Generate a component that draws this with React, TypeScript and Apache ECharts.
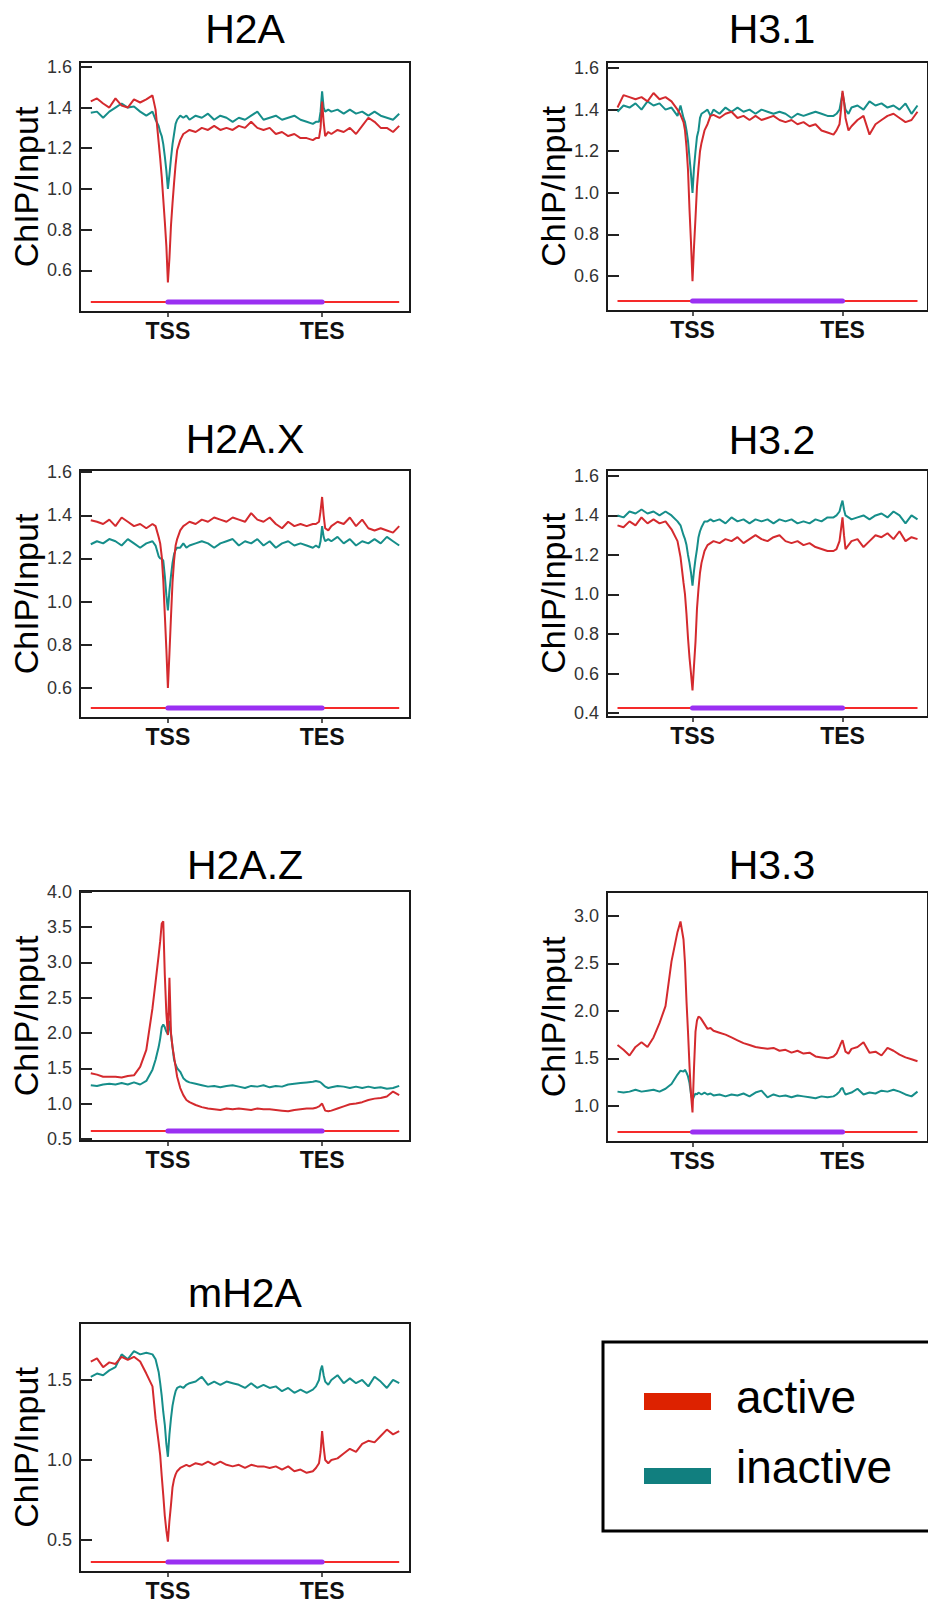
import React, { useEffect, useRef } from "react";
import * as echarts from "echarts";

// Scaled gene coordinate: TSS = 0, TES = 100
const X = [-50,-46,-42,-38,-34,-30,-26,-22,-18,-14,-10,
  -8,-6,-5,-4,-3,-2,-1,
  0,1,2,3,4,5,6,
  8,10,12,14,
  18,22,26,30,34,38,42,46,50,54,58,62,66,70,74,78,82,86,90,94,
  96,98,99,
  100,101,102,104,106,
  110,114,118,122,126,130,134,138,142,146,150];

const TITLES = ["H2A", "H3.1", "H2A.X", "H3.2", "H2A.Z", "H3.3", "mH2A"];
const SERIES_NAMES = ["active", "inactive"];
const X_TICKS = [0, 100];
const X_TICK_LABELS = ["TSS", "TES"];

const H2A_ACTIVE = [1.43,1.445,1.42,1.40,1.445,1.41,1.40,1.44,1.425,1.44,1.46,
  1.39,1.23,1.15,1.06,0.95,0.84,0.72,
  0.54,0.66,0.82,0.93,1.03,1.12,1.19,
  1.24,1.27,1.28,1.29,
  1.28,1.30,1.29,1.31,1.29,1.30,1.29,1.31,1.30,1.33,1.30,1.29,1.30,1.27,1.28,1.26,1.27,1.25,1.25,1.24,
  1.25,1.25,1.30,
  1.43,1.33,1.26,1.28,1.27,
  1.29,1.28,1.30,1.27,1.31,1.35,1.33,1.30,1.30,1.28,1.31];
const H2A_INACTIVE = [1.375,1.38,1.35,1.38,1.40,1.42,1.40,1.405,1.38,1.36,1.38,
  1.34,1.31,1.28,1.26,1.22,1.16,1.09,
  1.00,1.07,1.15,1.22,1.27,1.32,1.34,
  1.36,1.35,1.36,1.34,
  1.36,1.35,1.37,1.34,1.36,1.35,1.33,1.35,1.34,1.36,1.38,1.34,1.35,1.36,1.34,1.35,1.36,1.34,1.33,1.32,
  1.33,1.33,1.38,
  1.48,1.40,1.38,1.39,1.38,
  1.39,1.37,1.39,1.37,1.38,1.36,1.38,1.36,1.35,1.34,1.37];

const H31_ACTIVE = [1.41,1.47,1.46,1.45,1.46,1.44,1.48,1.45,1.46,1.44,1.40,
  1.375,1.34,1.30,1.22,1.11,0.92,0.76,
  0.575,0.74,0.88,1.03,1.12,1.20,1.24,
  1.30,1.33,1.37,1.375,
  1.36,1.38,1.39,1.36,1.37,1.35,1.37,1.35,1.36,1.37,1.35,1.34,1.35,1.33,1.34,1.32,1.33,1.30,1.29,1.28,
  1.30,1.33,1.40,
  1.49,1.44,1.36,1.30,1.32,
  1.35,1.37,1.28,1.33,1.35,1.37,1.38,1.36,1.34,1.35,1.39];
const H31_INACTIVE = [1.39,1.42,1.41,1.43,1.40,1.44,1.42,1.43,1.40,1.41,1.37,
  1.42,1.36,1.34,1.30,1.25,1.17,1.09,
  1.00,1.12,1.20,1.27,1.30,1.36,1.38,
  1.39,1.40,1.37,1.40,
  1.38,1.41,1.39,1.41,1.39,1.40,1.38,1.40,1.39,1.38,1.39,1.38,1.36,1.38,1.37,1.38,1.39,1.38,1.37,1.37,
  1.38,1.40,1.44,
  1.48,1.44,1.40,1.38,1.41,
  1.42,1.40,1.44,1.42,1.43,1.41,1.42,1.40,1.43,1.38,1.42];

const H2AX_ACTIVE = [1.377,1.37,1.36,1.38,1.35,1.39,1.37,1.35,1.36,1.34,1.36,
  1.35,1.30,1.27,1.21,1.10,0.94,0.78,
  0.60,0.76,0.93,1.09,1.19,1.26,1.29,
  1.33,1.35,1.36,1.37,
  1.36,1.38,1.37,1.39,1.38,1.37,1.39,1.38,1.37,1.41,1.38,1.37,1.39,1.36,1.34,1.37,1.35,1.36,1.35,1.36,
  1.36,1.37,1.42,
  1.485,1.40,1.34,1.33,1.35,
  1.37,1.36,1.39,1.35,1.38,1.34,1.33,1.34,1.33,1.32,1.35];
const H2AX_INACTIVE = [1.266,1.28,1.27,1.29,1.28,1.26,1.29,1.27,1.25,1.27,1.28,
  1.26,1.21,1.20,1.20,1.19,1.12,1.03,
  0.96,1.05,1.12,1.18,1.22,1.24,1.25,
  1.25,1.27,1.25,1.26,
  1.27,1.28,1.27,1.25,1.27,1.28,1.29,1.26,1.28,1.27,1.29,1.26,1.28,1.25,1.27,1.28,1.26,1.27,1.26,1.25,
  1.26,1.25,1.28,
  1.35,1.30,1.28,1.29,1.28,
  1.30,1.27,1.29,1.26,1.28,1.27,1.29,1.27,1.30,1.28,1.26];

const H32_ACTIVE = [1.35,1.34,1.37,1.35,1.39,1.36,1.38,1.36,1.37,1.33,1.27,
  1.19,1.06,1.00,0.90,0.78,0.68,0.60,
  0.515,0.64,0.76,0.93,1.03,1.11,1.16,
  1.22,1.25,1.26,1.27,
  1.26,1.28,1.27,1.29,1.26,1.28,1.30,1.28,1.27,1.29,1.30,1.27,1.26,1.27,1.25,1.26,1.24,1.23,1.22,1.22,
  1.23,1.27,1.33,
  1.39,1.30,1.23,1.25,1.27,
  1.28,1.24,1.27,1.30,1.29,1.31,1.28,1.32,1.27,1.29,1.28];
const H32_INACTIVE = [1.40,1.39,1.42,1.41,1.43,1.41,1.42,1.40,1.42,1.40,1.37,
  1.35,1.30,1.28,1.25,1.20,1.16,1.11,
  1.045,1.12,1.18,1.23,1.29,1.32,1.34,
  1.37,1.37,1.38,1.37,
  1.38,1.36,1.39,1.37,1.38,1.36,1.38,1.37,1.38,1.36,1.38,1.37,1.38,1.36,1.37,1.36,1.38,1.37,1.39,1.39,
  1.40,1.42,1.45,
  1.475,1.43,1.40,1.39,1.38,
  1.39,1.40,1.38,1.40,1.41,1.39,1.42,1.40,1.36,1.40,1.38];

const H2AZ_ACTIVE = [1.43,1.41,1.38,1.38,1.38,1.37,1.39,1.40,1.52,1.76,2.35,
  2.72,3.10,3.30,3.55,3.58,2.82,2.28,
  1.97,2.78,2.00,1.80,1.66,1.52,1.38,
  1.22,1.12,1.05,1.02,
  0.98,0.95,0.93,0.92,0.91,0.93,0.92,0.93,0.92,0.91,0.93,0.92,0.92,0.91,0.90,0.89,0.91,0.92,0.93,0.93,
  0.94,0.96,0.98,
  1.00,0.95,0.90,0.89,0.90,
  0.93,0.96,0.99,1.00,1.02,1.05,1.07,1.08,1.10,1.17,1.12];
const H2AZ_INACTIVE = [1.26,1.25,1.27,1.28,1.27,1.29,1.27,1.30,1.27,1.32,1.48,
  1.62,1.80,1.92,2.08,2.12,2.08,2.02,
  1.98,2.17,1.98,1.80,1.62,1.55,1.50,
  1.45,1.36,1.32,1.30,
  1.28,1.26,1.24,1.25,1.23,1.25,1.26,1.24,1.22,1.25,1.24,1.26,1.23,1.25,1.24,1.27,1.28,1.29,1.30,1.31,
  1.32,1.31,1.30,
  1.28,1.26,1.24,1.22,1.23,
  1.25,1.24,1.22,1.24,1.22,1.24,1.22,1.23,1.21,1.22,1.25];

const H33_ACTIVE = [1.64,1.59,1.53,1.62,1.67,1.62,1.72,1.87,2.05,2.52,2.83,
  2.94,2.75,2.50,2.10,1.78,1.42,1.12,
  0.93,1.40,1.78,1.90,1.94,1.93,1.91,
  1.86,1.81,1.82,1.79,
  1.77,1.75,1.72,1.69,1.66,1.64,1.62,1.61,1.60,1.61,1.58,1.59,1.56,1.58,1.55,1.56,1.52,1.51,1.50,1.52,
  1.55,1.62,1.66,
  1.69,1.63,1.57,1.55,1.60,
  1.62,1.67,1.56,1.57,1.53,1.61,1.58,1.54,1.51,1.49,1.47];
const H33_INACTIVE = [1.15,1.14,1.15,1.17,1.15,1.16,1.17,1.15,1.18,1.23,1.33,
  1.37,1.36,1.38,1.35,1.31,1.24,1.12,
  1.06,1.10,1.13,1.12,1.14,1.13,1.12,
  1.14,1.12,1.13,1.11,
  1.12,1.10,1.12,1.11,1.13,1.10,1.14,1.16,1.09,1.12,1.10,1.11,1.09,1.11,1.10,1.09,1.08,1.10,1.09,1.10,
  1.12,1.15,1.18,
  1.19,1.15,1.12,1.13,1.14,
  1.18,1.12,1.14,1.13,1.16,1.15,1.17,1.15,1.12,1.10,1.15];

const MH2A_ACTIVE = [1.615,1.635,1.58,1.61,1.60,1.645,1.625,1.645,1.615,1.54,1.46,
  1.26,1.11,1.03,0.90,0.78,0.65,0.56,
  0.49,0.62,0.72,0.83,0.88,0.91,0.93,
  0.95,0.96,0.97,0.96,
  0.98,0.97,0.99,0.97,0.99,0.97,0.96,0.97,0.95,0.97,0.96,0.96,0.95,0.96,0.94,0.96,0.93,0.94,0.92,0.93,
  0.95,0.98,1.05,
  1.18,1.08,1.00,0.98,1.00,
  1.01,1.04,1.07,1.05,1.10,1.12,1.11,1.15,1.19,1.16,1.18];
const MH2A_INACTIVE = [1.52,1.54,1.53,1.56,1.58,1.66,1.63,1.68,1.66,1.67,1.66,
  1.63,1.55,1.48,1.40,1.30,1.22,1.10,
  1.02,1.16,1.26,1.34,1.39,1.43,1.45,
  1.46,1.45,1.47,1.48,
  1.49,1.52,1.47,1.49,1.47,1.49,1.48,1.47,1.45,1.48,1.45,1.47,1.45,1.46,1.43,1.45,1.42,1.44,1.42,1.44,
  1.46,1.50,1.56,
  1.59,1.53,1.49,1.47,1.50,
  1.53,1.48,1.51,1.48,1.50,1.46,1.52,1.49,1.45,1.50,1.48];

const ACTIVE = [H2A_ACTIVE, H31_ACTIVE, H2AX_ACTIVE, H32_ACTIVE, H2AZ_ACTIVE, H33_ACTIVE, MH2A_ACTIVE];
const INACTIVE = [H2A_INACTIVE, H31_INACTIVE, H2AX_INACTIVE, H32_INACTIVE, H2AZ_INACTIVE, H33_INACTIVE, MH2A_INACTIVE];

// gene model: flanks from -50..150, gene body TSS..TES
const GENE_FLANK = [-50, 150];
const GENE_BODY = [0, 100];
const GENE_Y = [0.444, 0.48, 0.507, 0.425, 0.61, 0.726, 0.3625];

const Y_MIN = [0.395, 0.432, 0.461, 0.38, 0.47, 0.62, 0.30];
const Y_MAX = [1.624, 1.629, 1.61, 1.63, 4.01, 3.25, 1.856];
const Y_TICKS = [
  [0.6, 0.8, 1.0, 1.2, 1.4, 1.6],
  [0.6, 0.8, 1.0, 1.2, 1.4, 1.6],
  [0.6, 0.8, 1.0, 1.2, 1.4, 1.6],
  [0.4, 0.6, 0.8, 1.0, 1.2, 1.4, 1.6],
  [0.5, 1.0, 1.5, 2.0, 2.5, 3.0, 3.5, 4.0],
  [1.0, 1.5, 2.0, 2.5, 3.0],
  [0.5, 1.0, 1.5],
];

// layout (pixels)
const LAYOUT = [
  { left: 80, top: 62, height: 250, titleY: 29 },
  { left: 607, top: 62, height: 249, titleY: 29 },
  { left: 80, top: 470, height: 248, titleY: 439 },
  { left: 607, top: 470, height: 247, titleY: 440 },
  { left: 80, top: 891, height: 250, titleY: 865 },
  { left: 607, top: 892, height: 250, titleY: 865 },
  { left: 80, top: 1323, height: 249, titleY: 1293 },
];
const GRID_W = 330;
const X_MIN = -57;
const X_MAX = 157;

const FONT = '"Liberation Sans", Arial, Helvetica, sans-serif';
const RED = "#d42a2e";
const TEAL = "#168e8a";

function buildOption() {
  const grid: any[] = [];
  const xAxis: any[] = [];
  const yAxis: any[] = [];
  const series: any[] = [];
  const graphic: any[] = [];

  LAYOUT.forEach((L, i) => {
    grid.push({
      left: L.left,
      top: L.top,
      width: GRID_W,
      height: L.height,
      show: true,
      borderColor: "#1a1a1a",
      borderWidth: 2,
      backgroundColor: "transparent",
      containLabel: false,
    });
    xAxis.push({
      type: "value",
      gridIndex: i,
      position: "bottom",
      min: X_MIN,
      max: X_MAX,
      splitLine: { show: false },
      axisLine: { show: false, onZero: false },
      axisTick: {
        show: true,
        inside: false,
        length: 5,
        lineStyle: { color: "#222", width: 1.5 },
        customValues: X_TICKS,
      },
      axisLabel: {
        show: true,
        customValues: X_TICKS,
        margin: 7,
        fontSize: 23,
        fontWeight: "bold",
        fontFamily: FONT,
        color: "#111",
        formatter: (v: number) => {
          const k = X_TICKS.indexOf(v);
          return k >= 0 ? X_TICK_LABELS[k] : "";
        },
      },
    });
    yAxis.push({
      type: "value",
      gridIndex: i,
      position: "left",
      min: Y_MIN[i],
      max: Y_MAX[i],
      splitLine: { show: false },
      axisLine: { show: false, onZero: false },
      axisTick: {
        show: true,
        inside: true,
        length: 12,
        lineStyle: { color: "#222", width: 2 },
        customValues: Y_TICKS[i],
      },
      axisLabel: {
        show: true,
        customValues: Y_TICKS[i],
        margin: 8,
        fontSize: 18,
        fontFamily: FONT,
        color: "#333",
        formatter: (v: number) => v.toFixed(1),
      },
    });

    series.push({
      type: "line",
      name: "gene flank " + i,
      xAxisIndex: i,
      yAxisIndex: i,
      data: GENE_FLANK.map((x) => [x, GENE_Y[i]]),
      showSymbol: false,
      symbol: "none",
      silent: true,
      lineStyle: { color: "#f52a2a", width: 2 },
      z: 2,
    });
    series.push({
      type: "line",
      name: "gene body " + i,
      xAxisIndex: i,
      yAxisIndex: i,
      data: GENE_BODY.map((x) => [x, GENE_Y[i]]),
      showSymbol: false,
      symbol: "none",
      silent: true,
      lineStyle: { color: "#9a30f2", width: 5, cap: "round" },
      z: 3,
    });
    series.push({
      type: "line",
      name: SERIES_NAMES[1],
      xAxisIndex: i,
      yAxisIndex: i,
      data: X.map((x, k) => [x, INACTIVE[i][k]]),
      showSymbol: false,
      symbol: "none",
      silent: true,
      lineStyle: { color: TEAL, width: 2 },
      z: 4,
    });
    series.push({
      type: "line",
      name: SERIES_NAMES[0],
      xAxisIndex: i,
      yAxisIndex: i,
      data: X.map((x, k) => [x, ACTIVE[i][k]]),
      showSymbol: false,
      symbol: "none",
      silent: true,
      lineStyle: { color: RED, width: 2 },
      z: 5,
    });

    // panel title
    graphic.push({
      type: "text",
      x: L.left + GRID_W / 2,
      y: L.titleY,
      silent: true,
      style: {
        text: TITLES[i],
        fontSize: 41,
        fontFamily: FONT,
        fill: "#000",
        align: "center",
        verticalAlign: "middle",
        textAlign: "center",
        textVerticalAlign: "middle",
      },
    });
    // y axis title
    graphic.push({
      type: "text",
      x: L.left - 54,
      y: L.top + L.height / 2,
      rotation: Math.PI / 2,
      silent: true,
      style: {
        text: "ChIP/Input",
        fontSize: 34,
        fontFamily: FONT,
        fill: "#000",
        align: "center",
        verticalAlign: "middle",
        textAlign: "center",
        textVerticalAlign: "middle",
      },
    });
  });

  // legend box
  graphic.push({
    type: "rect",
    silent: true,
    shape: { x: 603, y: 1342, width: 420, height: 189 },
    style: { fill: "none", stroke: "#000", lineWidth: 3 },
  });
  graphic.push({
    type: "rect",
    silent: true,
    shape: { x: 644, y: 1393, width: 67, height: 17 },
    style: { fill: "#dd2200" },
  });
  graphic.push({
    type: "rect",
    silent: true,
    shape: { x: 644, y: 1468, width: 67, height: 16 },
    style: { fill: "#117f7f" },
  });
  graphic.push({
    type: "text",
    x: 736,
    y: 1397,
    silent: true,
    style: {
      text: SERIES_NAMES[0],
      fontSize: 46,
      fontFamily: FONT,
      fill: "#000",
      align: "left",
      verticalAlign: "middle",
      textAlign: "left",
      textVerticalAlign: "middle",
    },
  });
  graphic.push({
    type: "text",
    x: 736,
    y: 1467,
    silent: true,
    style: {
      text: SERIES_NAMES[1],
      fontSize: 46,
      fontFamily: FONT,
      fill: "#000",
      align: "left",
      verticalAlign: "middle",
      textAlign: "left",
      textVerticalAlign: "middle",
    },
  });

  return {
    animation: false,
    backgroundColor: "#ffffff",
    grid,
    xAxis,
    yAxis,
    series,
    graphic,
  };
}

export default function App() {
  const ref = useRef<HTMLDivElement>(null);
  useEffect(() => {
    if (!ref.current) return;
    const chart = echarts.init(ref.current, undefined, { renderer: "svg" });
    chart.setOption(buildOption() as any);
    return () => chart.dispose();
  }, []);
  return (
    <div
      ref={ref}
      style={{ position: "absolute", left: 0, top: 0, width: 928, height: 1602, background: "#fff" }}
    />
  );
}
